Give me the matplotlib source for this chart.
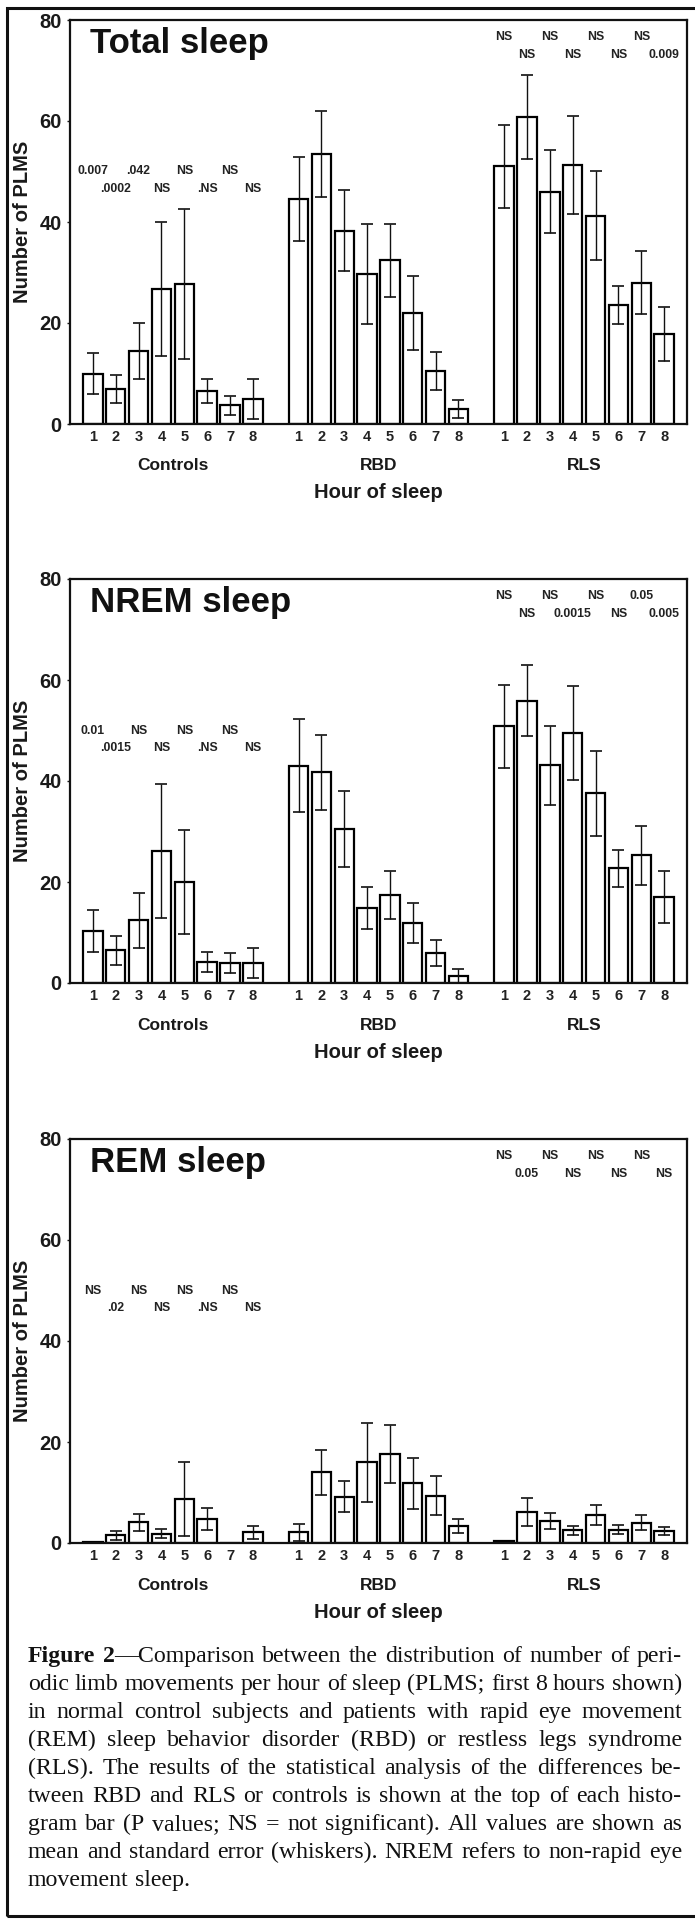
import numpy as np
import matplotlib
matplotlib.use("Agg")
import matplotlib.pyplot as plt
from matplotlib.transforms import blended_transform_factory
from matplotlib.patches import Rectangle

# ---------------- data ----------------
hours = ["1", "2", "3", "4", "5", "6", "7", "8"]
groups = ["Controls", "RBD", "RLS"]
panel_titles = ["Total sleep", "NREM sleep", "REM sleep"]

total_controls = [10.0, 7.0, 14.5, 26.7, 27.7, 6.5, 3.7, 4.9]
total_controls_se = [4.0, 2.8, 5.5, 13.3, 14.8, 2.4, 1.9, 4.0]
total_rbd = [44.5, 53.5, 38.3, 29.8, 32.4, 22.0, 10.5, 3.0]
total_rbd_se = [8.3, 8.5, 8.0, 9.9, 7.2, 7.4, 3.7, 1.8]
total_rls = [51.0, 60.8, 46.0, 51.2, 41.2, 23.6, 28.0, 17.8]
total_rls_se = [8.2, 8.3, 8.2, 9.7, 8.8, 3.7, 6.2, 5.3]

nrem_controls = [10.3, 6.5, 12.4, 26.2, 20.0, 4.2, 3.9, 4.0]
nrem_controls_se = [4.2, 2.9, 5.4, 13.3, 10.2, 2.0, 2.0, 3.0]
nrem_rbd = [43.0, 41.7, 30.5, 14.8, 17.4, 11.9, 5.9, 1.4]
nrem_rbd_se = [9.2, 7.5, 7.5, 4.2, 4.7, 4.0, 2.6, 1.4]
nrem_rls = [50.8, 55.9, 43.1, 49.5, 37.6, 22.7, 25.3, 17.0]
nrem_rls_se = [8.2, 7.0, 7.8, 9.4, 8.4, 3.7, 5.8, 5.2]

rem_controls = [0.15, 1.5, 4.1, 1.85, 8.7, 4.7, 0.0, 2.1]
rem_controls_se = [np.nan, 0.9, 1.7, 0.9, 7.3, 2.2, np.nan, 1.3]
rem_rbd = [2.1, 14.0, 9.2, 16.0, 17.6, 11.8, 9.4, 3.3]
rem_rbd_se = [1.7, 4.5, 3.0, 7.8, 5.8, 5.1, 3.8, 1.4]
rem_rls = [0.4, 6.1, 4.4, 2.5, 5.6, 2.6, 4.0, 2.4]
rem_rls_se = [np.nan, 2.8, 1.6, 0.9, 2.0, 0.9, 1.5, 0.8]

total_controls_p = ["0.007", ".0002", ".042", "NS", "NS", ".NS", "NS", "NS"]
total_rls_p = ["NS", "NS", "NS", "NS", "NS", "NS", "NS", "0.009"]
nrem_controls_p = ["0.01", ".0015", "NS", "NS", "NS", ".NS", "NS", "NS"]
nrem_rls_p = ["NS", "NS", "NS", "0.0015", "NS", "NS", "0.05", "0.005"]
rem_controls_p = ["NS", ".02", "NS", "NS", "NS", ".NS", "NS", "NS"]
rem_rls_p = ["NS", "0.05", "NS", "NS", "NS", "NS", "NS", "NS"]

yticks = [0, 20, 40, 60, 80]

caption_lines = [
    "Figure 2—Comparison between the distribution of number of peri-",
    "odic limb movements per hour of sleep (PLMS; first 8 hours shown)",
    "in normal control subjects and patients with rapid eye movement",
    "(REM) sleep behavior disorder (RBD) or restless legs syndrome",
    "(RLS). The results of the statistical analysis of the differences be-",
    "tween RBD and RLS or controls is shown at the top of each histo-",
    "gram bar (P values; NS = not significant). All values are shown as",
    "mean and standard error (whiskers). NREM refers to non-rapid eye",
    "movement sleep.",
]

panels = [
    (total_controls, total_controls_se, total_rbd, total_rbd_se, total_rls, total_rls_se,
     total_controls_p, total_rls_p),
    (nrem_controls, nrem_controls_se, nrem_rbd, nrem_rbd_se, nrem_rls, nrem_rls_se,
     nrem_controls_p, nrem_rls_p),
    (rem_controls, rem_controls_se, rem_rbd, rem_rbd_se, rem_rls, rem_rls_se,
     rem_controls_p, rem_rls_p),
]

# ---------------- layout ----------------
W, H = 695, 1923
fig = plt.figure(figsize=(W / 100, H / 100), dpi=100)
fig.patch.set_facecolor("white")

SANS = ["Liberation Sans", "DejaVu Sans"]
SERIF = ["Liberation Serif", "DejaVu Serif"]
TXT = "#1a1a1a"

ax_left, ax_w, ax_h = 70, 617, 404
panel_tops = [20, 579, 1139]
group_offsets = [0, 9, 18]
bar_w = 0.85

for pi, (ptop, data, title) in enumerate(zip(panel_tops, panels, panel_titles)):
    cv, cse, bv, bse, lv, lse, cp, lp = data
    ax = fig.add_axes([ax_left / W, 1 - (ptop + ax_h) / H, ax_w / W, ax_h / H])
    ax.set_xlim(0, 27)
    ax.set_ylim(0, 80)
    trans = blended_transform_factory(ax.transData, ax.transAxes)
    for gi, (vals, ses) in enumerate([(cv, cse), (bv, bse), (lv, lse)]):
        xs = np.arange(1, 9) + group_offsets[gi]
        ax.bar(xs, vals, width=bar_w, color="white", edgecolor="black",
               linewidth=1.6, zorder=2)
        ax.errorbar(xs, vals, yerr=ses, fmt="none", ecolor="#111111",
                    elinewidth=1.0, capsize=4.3, capthick=1.2, zorder=3)
        for h, x in zip(hours, xs):
            ax.text(x, -13 / ax_h, h, transform=trans, ha="center", va="center",
                    fontsize=10.5, fontweight="bold", family=SANS, color="#222222")
        ax.text(xs.mean(), -42 / ax_h, groups[gi], transform=trans, ha="center",
                va="center", fontsize=12.5, fontweight="bold", family=SANS, color=TXT)
    ax.text(np.arange(1, 9).mean() + group_offsets[1], -69 / ax_h, "Hour of sleep",
            transform=trans, ha="center", va="center", fontsize=14.5,
            fontweight="bold", family=SANS, color=TXT)

    # p values
    for k, lab in enumerate(cp):
        yv = 50.0 if k % 2 == 0 else 46.5
        ax.text(k + 1 + group_offsets[0], yv, lab, ha="center", va="center",
                fontsize=8.8, fontweight="bold", family=SANS, color="#222222")
    for k, lab in enumerate(lp):
        yv = 76.6 if k % 2 == 0 else 73.0
        ax.text(k + 1 + group_offsets[2], yv, lab, ha="center", va="center",
                fontsize=8.8, fontweight="bold", family=SANS, color="#222222")

    ax.text(0.032, 0.918, title, transform=ax.transAxes, ha="left", va="baseline",
            fontsize=25, fontweight="bold", family=SANS, color="#111111")

    ax.text(-(ax_left - 23) / ax_w, 0.5, "Number of PLMS", transform=ax.transAxes,
            rotation=90, ha="center", va="center", fontsize=14.5,
            fontweight="bold", family=SANS, color=TXT)

    ax.set_xticks([])
    ax.set_yticks(yticks)
    ax.set_yticklabels([str(t) for t in yticks])
    ax.tick_params(axis="y", direction="out", length=2.5, width=1.0, pad=3.6,
                   labelsize=14.5, colors=TXT)
    for lab in ax.get_yticklabels():
        lab.set_fontweight("bold")
        lab.set_family(SANS)
    for sp in ax.spines.values():
        sp.set_linewidth(1.6)
        sp.set_color("#111111")

# outer frame (right side falls outside the image)
fig.patches.append(Rectangle((7 / W, 1 - 1916 / H), (720 - 7) / W, (1916 - 8) / H,
                             transform=fig.transFigure, fill=False,
                             edgecolor="#111111", linewidth=2.2))

# ---------------- caption (justified) ----------------
fig.canvas.draw()
renderer = fig.canvas.get_renderer()


def text_width(s, size, weight="normal"):
    t = fig.text(0, 0, s, fontsize=size, family=SERIF, fontweight=weight)
    w = t.get_window_extent(renderer).width
    t.remove()
    return w


cap_left, cap_right = 28, 682
cap_width = cap_right - cap_left
base = 16.0

# first line: "Figure 2" bold, rest regular
parsed = []
for li, line in enumerate(caption_lines):
    words = [[(wd, "normal")] for wd in line.split(" ")]
    if li == 0:
        words[0] = [("Figure", "bold")]
        rest = words[1][0][0]  # "2—Comparison"
        words[1] = [("2", "bold"), (rest[1:], "normal")]
    parsed.append(words)


def natural_width(words, size):
    sp = text_width("x x", size) - text_width("xx", size)
    total = 0.0
    for w in words:
        for txt, wt in w:
            total += text_width(txt, size, wt)
    return total + sp * (len(words) - 1)


ratios = [cap_width / natural_width(words, base) for words in parsed[:-1]]
fs = min(base * min(ratios), 18.0)

sp_nat = text_width("x x", fs) - text_width("xx", fs)
for li, words in enumerate(parsed):
    yb = 1662 + li * 28.0
    widths = [[text_width(txt, fs, wt) for txt, wt in w] for w in words]
    total = sum(sum(ws) for ws in widths)
    if li < len(parsed) - 1 and len(words) > 1:
        gap = (cap_width - total) / (len(words) - 1)
    else:
        gap = sp_nat
    x = cap_left
    for w, ws in zip(words, widths):
        for (txt, wt), wpx in zip(w, ws):
            fig.text(x / W, 1 - yb / H, txt, fontsize=fs, family=SERIF,
                     fontweight=wt, ha="left", va="baseline", color="#111111")
            x += wpx
        x += gap

fig.savefig("out.png", dpi=100, facecolor="white")
